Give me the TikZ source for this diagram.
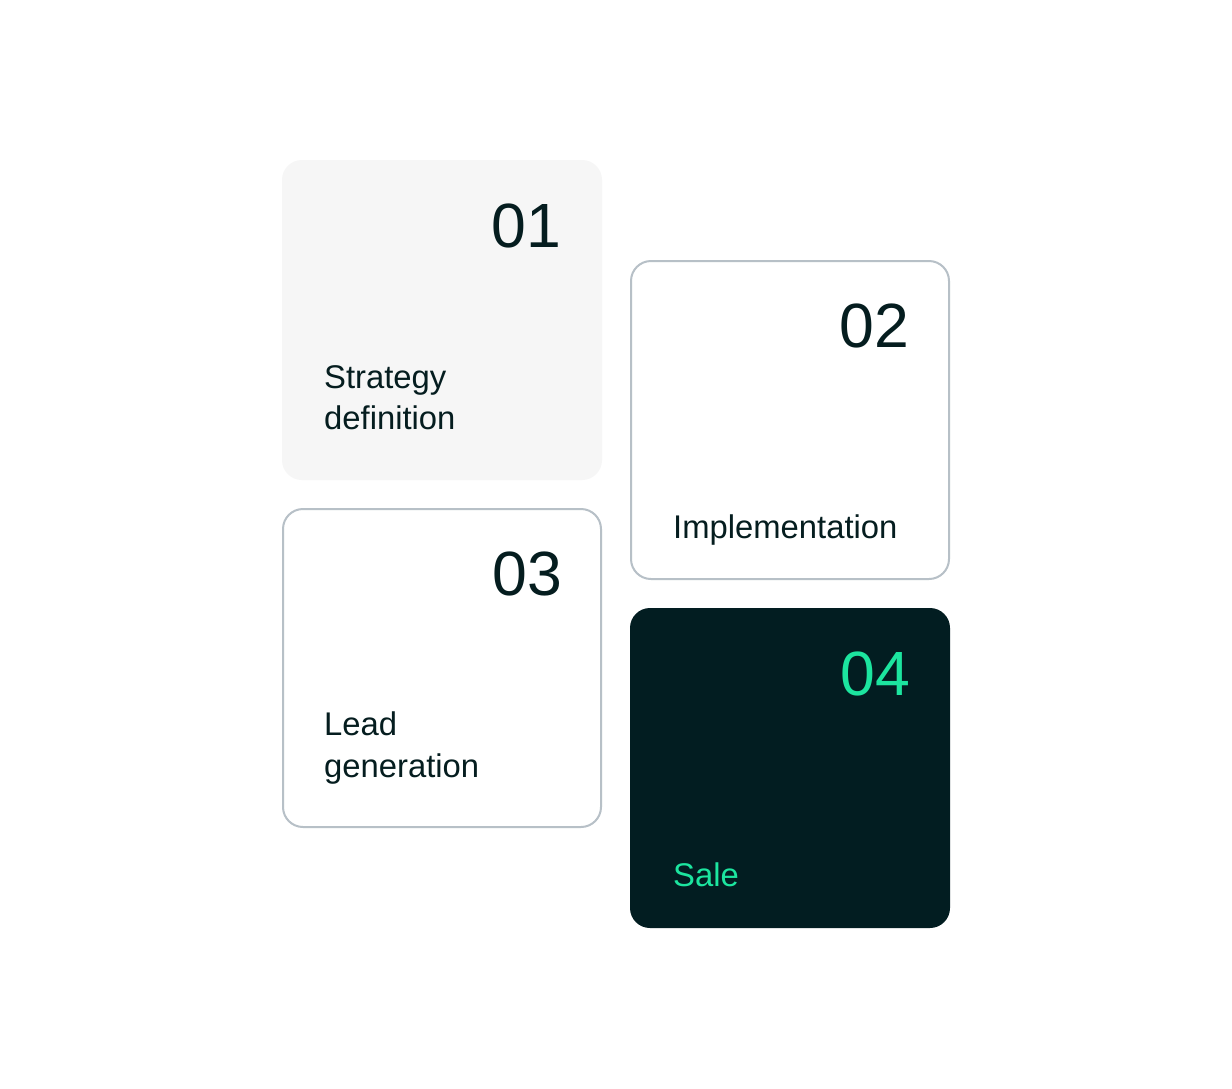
\documentclass[tikz,border=0pt]{standalone}
\usepackage{fontspec}
\setmainfont{Liberation Sans}
\definecolor{ink}{HTML}{051D1F}
\definecolor{paleBox}{HTML}{F6F6F6}
\definecolor{edgeGray}{HTML}{B7C0C7}
\definecolor{darkBox}{HTML}{021D21}
\definecolor{mint}{HTML}{1CE59F}
\tikzset{
  card/.style={rectangle, rounded corners=20pt, inner sep=0pt, outer sep=0pt},
  plaincard/.style={card, fill=paleBox, minimum width=320pt, minimum height=320pt},
  linecard/.style={card, draw=edgeGray, line width=2pt, fill=white, minimum width=318pt, minimum height=318pt},
  darkcard/.style={card, fill=darkBox, minimum width=320pt, minimum height=320pt},
  numtext/.style={anchor=base east, inner sep=0pt, font=\fontsize{62.5}{70}\selectfont, text=ink},
  labtext/.style={anchor=base west, inner sep=0pt, font=\fontsize{32.8}{41}\selectfont, text=ink}
}
\begin{document}
\begin{tikzpicture}[x=1pt,y=-1pt]
\useasboundingbox (0,0) rectangle (1232,1088);
\fill[white] (0,0) rectangle (1232,1088);
% cards
\node[plaincard] (c1) at (442,320) {};
\node[linecard] (c2) at (790,420) {};
\node[linecard] (c3) at (442,668) {};
\node[darkcard] (c4) at (790,768) {};
% numbers
\node[numtext] (n1) at (561,247) {01};
\node[numtext] (n2) at (909,347) {02};
\node[numtext] (n3) at (562,595) {03};
\node[numtext, text=mint] (n4) at (910,695) {04};
% labels
\node[labtext] (l1a) at (324,388) {Strategy};
\node[labtext] (l1b) at (324,429) {definition};
\node[labtext] (l2) at (673,538) {Implementation};
\node[labtext] (l3a) at (324,735) {Lead};
\node[labtext] (l3b) at (324,777) {generation};
\node[labtext, text=mint] (l4) at (673,886) {Sale};
\end{tikzpicture}
\end{document}
